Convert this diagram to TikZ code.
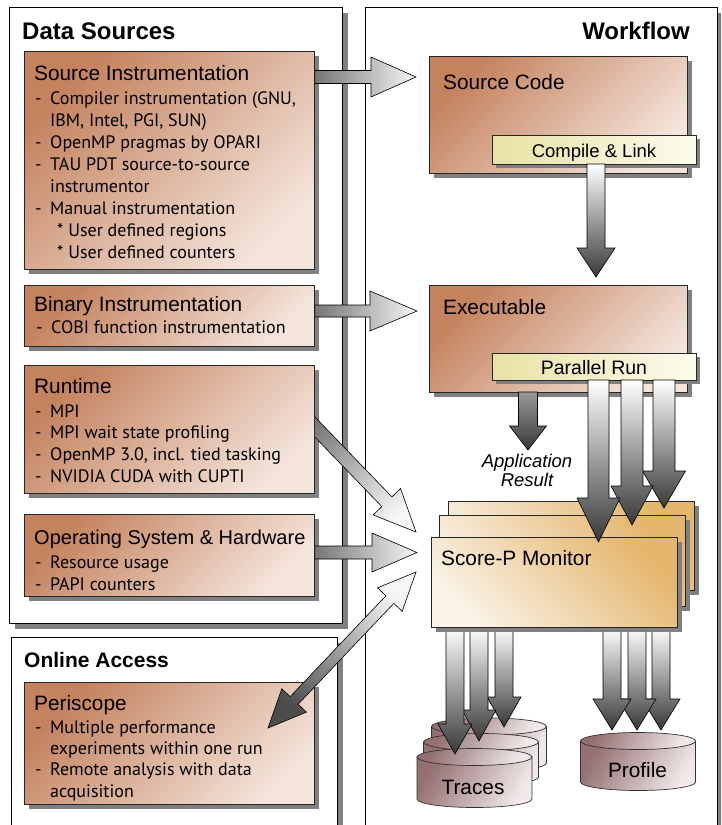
\documentclass[tikz,border=0pt]{standalone}
\usepackage{fontspec}
\setmainfont{Liberation Sans}
\newfontfamily\listfont{PT Sans}
\usetikzlibrary{calc}
\definecolor{brA}{RGB}{196,130,94}
\definecolor{brB}{RGB}{244,228,219}
\definecolor{spA}{RGB}{229,182,110}
\definecolor{spB}{RGB}{250,243,232}
\definecolor{ylA}{RGB}{232,226,164}
\definecolor{ylB}{RGB}{253,251,238}
\definecolor{cyA}{RGB}{148,112,114}
\definecolor{cyB}{RGB}{240,233,233}
\definecolor{shg}{RGB}{128,128,128}
\definecolor{arL}{RGB}{246,246,246}
\definecolor{arM}{RGB}{118,118,118}
\definecolor{arD}{RGB}{56,56,56}
\newcommand\fatarr[6]{%
 \coordinate (fah) at ($(#3)!#6!(#2)$);
 \shade[#1] ($(#2)!#4!90:(#3)$) -- ($(fah)!#4!90:(#3)$) -- ($(fah)!#5!90:(#3)$) -- (#3) -- ($(fah)!#5!-90:(#3)$) -- ($(fah)!#4!-90:(#3)$) -- ($(#2)!#4!-90:(#3)$) -- cycle;
}
\newcommand\fatdarr[6]{%
 \coordinate (fha) at ($(#2)!#6!(#3)$);
 \coordinate (fhb) at ($(#3)!#6!(#2)$);
 \shade[#1] (#2) -- ($(fha)!#5!90:(#3)$) -- ($(fha)!#4!90:(#3)$) -- ($(fhb)!#4!-90:(#2)$) -- ($(fhb)!#5!-90:(#2)$) -- (#3) -- ($(fhb)!#5!90:(#2)$) -- ($(fhb)!#4!90:(#2)$) -- ($(fha)!#4!-90:(#3)$) -- ($(fha)!#5!-90:(#3)$) -- cycle;
}
\newcommand\cylin[3]{%
 \shade[cyl] (#1-57.5,#2) -- (#1-57.5,#3) arc[start angle=180,end angle=360,x radius=57.5pt,y radius=8.5pt] -- (#1+57.5,#2) -- cycle;
 \shade[cyl] (#1,#2) ellipse[x radius=57.5pt,y radius=8.5pt];
}
\newcommand\itm[1]{\strut\makebox[15pt][l]{-}#1}
\newcommand\cnt[1]{\strut\hspace*{15pt}#1}
\tikzset{
 panel/.style={draw=black, line width=0.7pt, fill=white, inner sep=0, anchor=north west,
   preaction={fill=shg, transform canvas={xshift=6pt,yshift=-6pt}}},
 dbox/.style={draw=black!85, line width=0.8pt, inner sep=0, anchor=north west,
   top color=brA, bottom color=brB, shading angle=45,
   preaction={fill=shg, transform canvas={xshift=5pt,yshift=-5pt}}},
 ybox/.style={draw=black!85, line width=0.8pt, inner sep=0, anchor=north west,
   left color=ylA, right color=ylB,
   preaction={fill=shg, transform canvas={xshift=4pt,yshift=-4pt}}},
 sbox/.style={draw=black!85, line width=0.8pt, inner sep=0, anchor=north west,
   minimum width=246pt, top color=spA, bottom color=spB, shading angle=-45,
   preaction={fill=shg, transform canvas={xshift=5pt,yshift=-5pt}}},
 cyl/.style={draw=black!80, line width=0.7pt, top color=cyA, bottom color=cyB, shading angle=60},
 ptl/.style={font=\bfseries\fontsize{24}{28}\selectfont, inner sep=0, anchor=base west},
 ttl/.style={font=\fontsize{20.8}{25}\selectfont, inner sep=0, anchor=base west},
 lst/.style={font=\listfont\fontsize{18}{22}\selectfont, inner sep=0, anchor=north west, align=left},
 harr/.style={draw=black, line width=0.6pt, left color=arM, right color=arL},
 varr/.style={draw=black, line width=0.6pt, top color=white, bottom color=arD},
 garr/.style={draw=black, line width=0.6pt, top color=black!40, bottom color=arD},
}
\begin{document}
\begin{tikzpicture}[x=1pt,y=-1pt]
\clip (0,0) rectangle (721,825);
% panels
\node[panel, minimum width=333pt, minimum height=616pt] (ds) at (9,7) {};
\node[panel, minimum width=326pt, minimum height=200pt] (oa) at (11,637) {};
\node[panel, minimum width=352pt, minimum height=830pt] (wf) at (365,7) {};
\node[ptl] (tds) at (22,39) {Data Sources};
\node[ptl, font=\bfseries\fontsize{21}{25}\selectfont] (toa) at (24,667) {Online Access};
\node[ptl, anchor=base east] (twf) at (690,39) {Workflow};
% data source boxes
\node[dbox, minimum width=290pt, minimum height=218pt] (si) at (24,51) {};
\node[dbox, minimum width=290pt, minimum height=61pt] (bi) at (24,285) {};
\node[dbox, minimum width=290pt, minimum height=128pt] (rt) at (24,365) {};
\node[dbox, minimum width=290pt, minimum height=82pt] (os) at (24,514) {};
\node[dbox, minimum width=290pt, minimum height=122pt] (pe) at (24,682) {};
\node[ttl] (tsi) at (34,80) {Source Instrumentation};
\node[ttl] (tbi) at (34,311) {Binary Instrumentation};
\node[ttl] (trt) at (34,393) {Runtime};
\node[ttl, font=\fontsize{20}{24}\selectfont] (tos) at (34,544) {Operating System \& Hardware};
\node[ttl] (tpe) at (34,710) {Periscope};
\node[lst] (lsi) at (35,88.6) {\itm{Compiler instrumentation (GNU,}\\\cnt{IBM, Intel, PGI, SUN)}\\\itm{OpenMP pragmas by OPARI}\\\itm{TAU PDT source-to-source}\\\cnt{instrumentor}\\\itm{Manual instrumentation}\\\strut\hspace*{22pt}* User defined regions\\\strut\hspace*{22pt}* User defined counters};
\node[lst] (lbi) at (36,317.6) {\itm{COBI function instrumentation}};
\node[lst, font=\listfont\fontsize{18}{21.6}\selectfont] (lrt) at (35,401.9) {\itm{MPI}\\\itm{MPI wait state profiling}\\\itm{OpenMP 3.0, incl. tied tasking}\\\itm{NVIDIA CUDA with CUPTI}};
\node[lst] (los) at (35,552.6) {\itm{Resource usage}\\\itm{PAPI counters}};
\node[lst, font=\listfont\fontsize{18}{21.3}\selectfont] (lpe) at (35,718.1) {\itm{Multiple performance}\\\cnt{experiments within one run}\\\itm{Remote analysis with data}\\\cnt{acquisition}};
% workflow boxes
\node[dbox, minimum width=258pt, minimum height=117pt] (sc) at (429,56) {};
\node[ttl] (tsc) at (443,89) {Source Code};
\node[ybox, minimum width=204pt, minimum height=29pt] (cl) at (492,135) {};
\node[font=\fontsize{18.5}{22}\selectfont, inner sep=0, anchor=base] (tcl) at (594,157) {Compile \& Link};
\node[dbox, minimum width=258pt, minimum height=107pt] (ex) at (429,285) {};
\node[ttl] (tex) at (443,314) {Executable};
\node[ybox, minimum width=204pt, minimum height=27pt] (pr) at (492,353) {};
\node[font=\fontsize{19.5}{22}\selectfont, inner sep=0, anchor=base] (tpr) at (594,374) {Parallel Run};
\node[font=\itshape\fontsize{18.5}{19.5}\selectfont, inner sep=0, anchor=north, align=center] (tar) at (527,453.3) {\strut Application\\\strut Result};
% storage
\cylin{489}{726.5}{763}
\cylin{481}{742}{777}
\cylin{474.5}{757}{799}
\cylin{638}{741}{782}
\node[font=\fontsize{20.8}{25}\selectfont, inner sep=0, anchor=base] (ttr) at (473,794) {Traces};
\node[font=\fontsize{20.8}{25}\selectfont, inner sep=0, anchor=base] (tpf) at (637.5,777) {Profile};
% output arrows
\coordinate (t3s) at (504,627); \coordinate (t3e) at (504,727);
\coordinate (t2s) at (479,627); \coordinate (t2e) at (479,741);
\coordinate (t1s) at (455,627); \coordinate (t1e) at (455,754);
\coordinate (p3s) at (661,627); \coordinate (p3e) at (661,730);
\coordinate (p2s) at (637,627); \coordinate (p2e) at (637,730);
\coordinate (p1s) at (612,627); \coordinate (p1e) at (612,730);
\fatarr{varr}{t3s}{t3e}{9pt}{17pt}{30pt}
\fatarr{varr}{t2s}{t2e}{9pt}{17pt}{31pt}
\fatarr{varr}{t1s}{t1e}{9pt}{17pt}{30pt}
\fatarr{varr}{p3s}{p3e}{9pt}{19pt}{31pt}
\fatarr{varr}{p2s}{p2e}{9pt}{19pt}{31pt}
\fatarr{varr}{p1s}{p1e}{9pt}{19pt}{31pt}
% monitor stack
\node[sbox, minimum height=89pt] (sp3) at (448,501) {};
\node[sbox, minimum height=91pt] (sp2) at (439,515) {};
\node[sbox, minimum height=90pt] (sp1) at (431,537) {};
\node[ttl] (tsp) at (441,565) {Score-P Monitor};
% workflow arrows
\coordinate (cls) at (596,164); \coordinate (cle) at (596,277);
\fatarr{varr}{cls}{cle}{9pt}{19pt}{29pt}
\coordinate (ars) at (528,392); \coordinate (are) at (528,450);
\fatarr{garr}{ars}{are}{9.5pt}{18.5pt}{24pt}
\coordinate (r3s) at (664,380); \coordinate (r3e) at (664,508);
\coordinate (r2s) at (632,380); \coordinate (r2e) at (632,525);
\coordinate (r1s) at (598.5,380); \coordinate (r1e) at (598.5,542);
\fatarr{varr}{r3s}{r3e}{11pt}{21.5pt}{37pt}
\fatarr{varr}{r2s}{r2e}{11pt}{21pt}{39pt}
\fatarr{varr}{r1s}{r1e}{10.5pt}{21.5pt}{44pt}
% data source arrows
\coordinate (a1s) at (si.east |- 0,77); \coordinate (a1e) at (416,77);
\coordinate (a2s) at (bi.east |- 0,311); \coordinate (a2e) at (417,311);
\coordinate (a4s) at (os.east |- 0,552.5); \coordinate (a4e) at (417,552.5);
\fatarr{harr}{a1s}{a1e}{6.5pt}{20pt}{45pt}
\fatarr{harr}{a2s}{a2e}{6pt}{20pt}{47pt}
\fatarr{harr}{a4s}{a4e}{6.5pt}{19.5pt}{45pt}
\begin{scope}
\clip (rt.east |- 0,0) rectangle (721,825);
\coordinate (a3s) at (300,411.5); \coordinate (a3e) at (416,532);
\fatarr{draw=black, line width=0.6pt, top color=arM, bottom color=arL, shading angle=44}{a3s}{a3e}{7pt}{19pt}{42pt}
\end{scope}
\coordinate (a5s) at (268,728); \coordinate (a5e) at (416,572);
\fatdarr{draw=black, line width=0.6pt, top color=black!70, bottom color=arL, shading angle=136.5}{a5s}{a5e}{5.5pt}{17pt}{38pt}
\end{tikzpicture}
\end{document}
